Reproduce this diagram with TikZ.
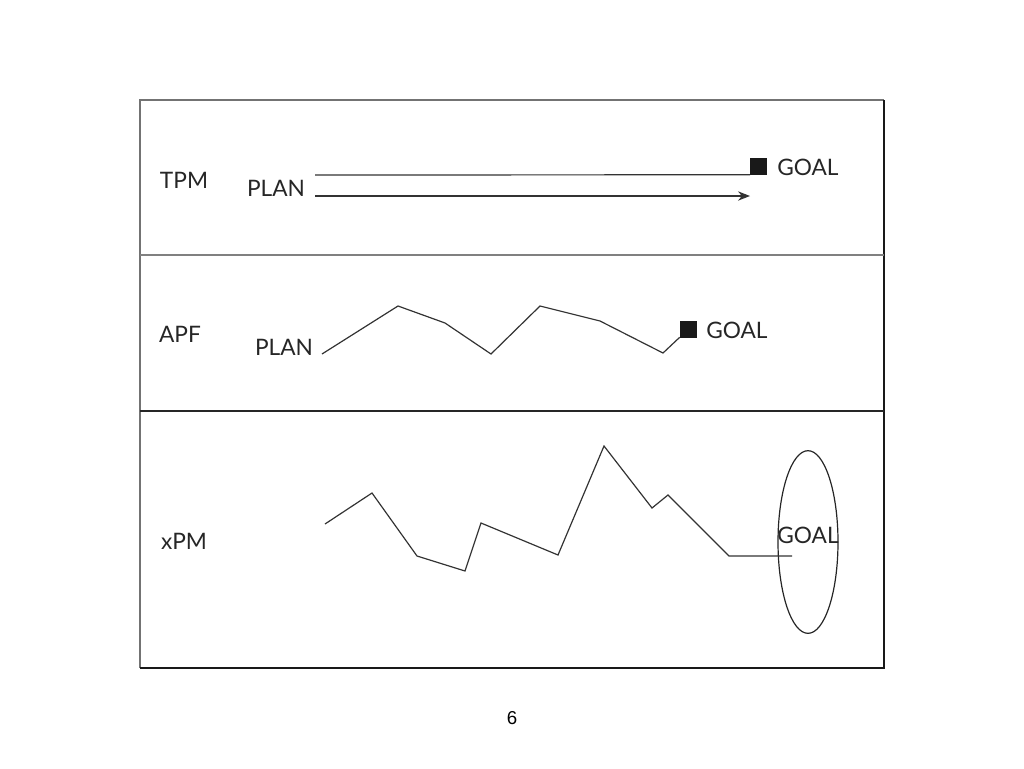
\documentclass[tikz,border=0pt]{standalone}
\usepackage{fontspec}
\usetikzlibrary{arrows.meta,shapes.geometric}
\setmainfont{Lato}
\newfontfamily\pagefont{Liberation Sans}
\begin{document}
\begin{tikzpicture}[x=0.75pt,y=-0.75pt,
  lbl/.style={font=\fontsize{17}{19}\selectfont, text=black!85, inner sep=0pt},
  trace/.style={draw=black!80, line width=0.9pt, line join=miter},
  goalbox/.style={fill=black!90, draw=black!90, minimum size=12pt, inner sep=0pt}]
\useasboundingbox (0,0) rectangle (1024,768);
% frame
\draw[black!55, line width=1pt] (884,100) -- (140,100) -- (140,668);
\draw[black!90, line width=1.1pt] (140,668) -- (884,668) -- (884,100);
\draw[black!50, line width=2pt] (140,255) -- (884,255);
\draw[black!85, line width=1pt] (140,411) -- (884,411);
% TPM
\node[lbl] (tpm) at (184,180) {TPM};
\node[lbl] (plan1) at (276,188) {PLAN};
\coordinate (l1s) at (315,175);
\node[goalbox] (g1) at (758.5,166.5) {};
\node[lbl, anchor=west] (goal1) at (777,167) {GOAL};
\draw[trace] (l1s) -- (g1.south west);
\coordinate (a1s) at (315,196);
\coordinate (a1e) at (750,196);
\draw[trace, -{Stealth[length=9pt,width=7pt]}] (a1s) -- (a1e);
% APF
\node[lbl] (apf) at (180,334) {APF};
\node[lbl] (plan2) at (284,347) {PLAN};
\node[goalbox] (g2) at (688,329) {};
\node[lbl, anchor=west] (goal2) at (706,330) {GOAL};
\draw[trace] (322,354) -- (398,306) -- (445,323) -- (491,354) -- (540,306) -- (600,321) -- (663,353) -- (g2.south west);
% xPM
\node[lbl] (xpm) at (184,541) {xPM};
\node[draw=black!85, line width=0.9pt, ellipse, minimum width=45pt, minimum height=137pt, inner sep=0pt] (ell) at (808,542) {};
\node[lbl] (goal3) at (808,535) {GOAL};
\coordinate (x3e) at (792,556);
\draw[trace] (325,524) -- (372,493) -- (417,556) -- (465,571) -- (481,523) -- (558,555) -- (604,446) -- (652,508) -- (668,495) -- (729,556) -- (x3e);
% page number
\node[font=\pagefont\fontsize{14}{16}\selectfont, inner sep=0pt] (pg) at (512,718) {6};
\end{tikzpicture}
\end{document}
